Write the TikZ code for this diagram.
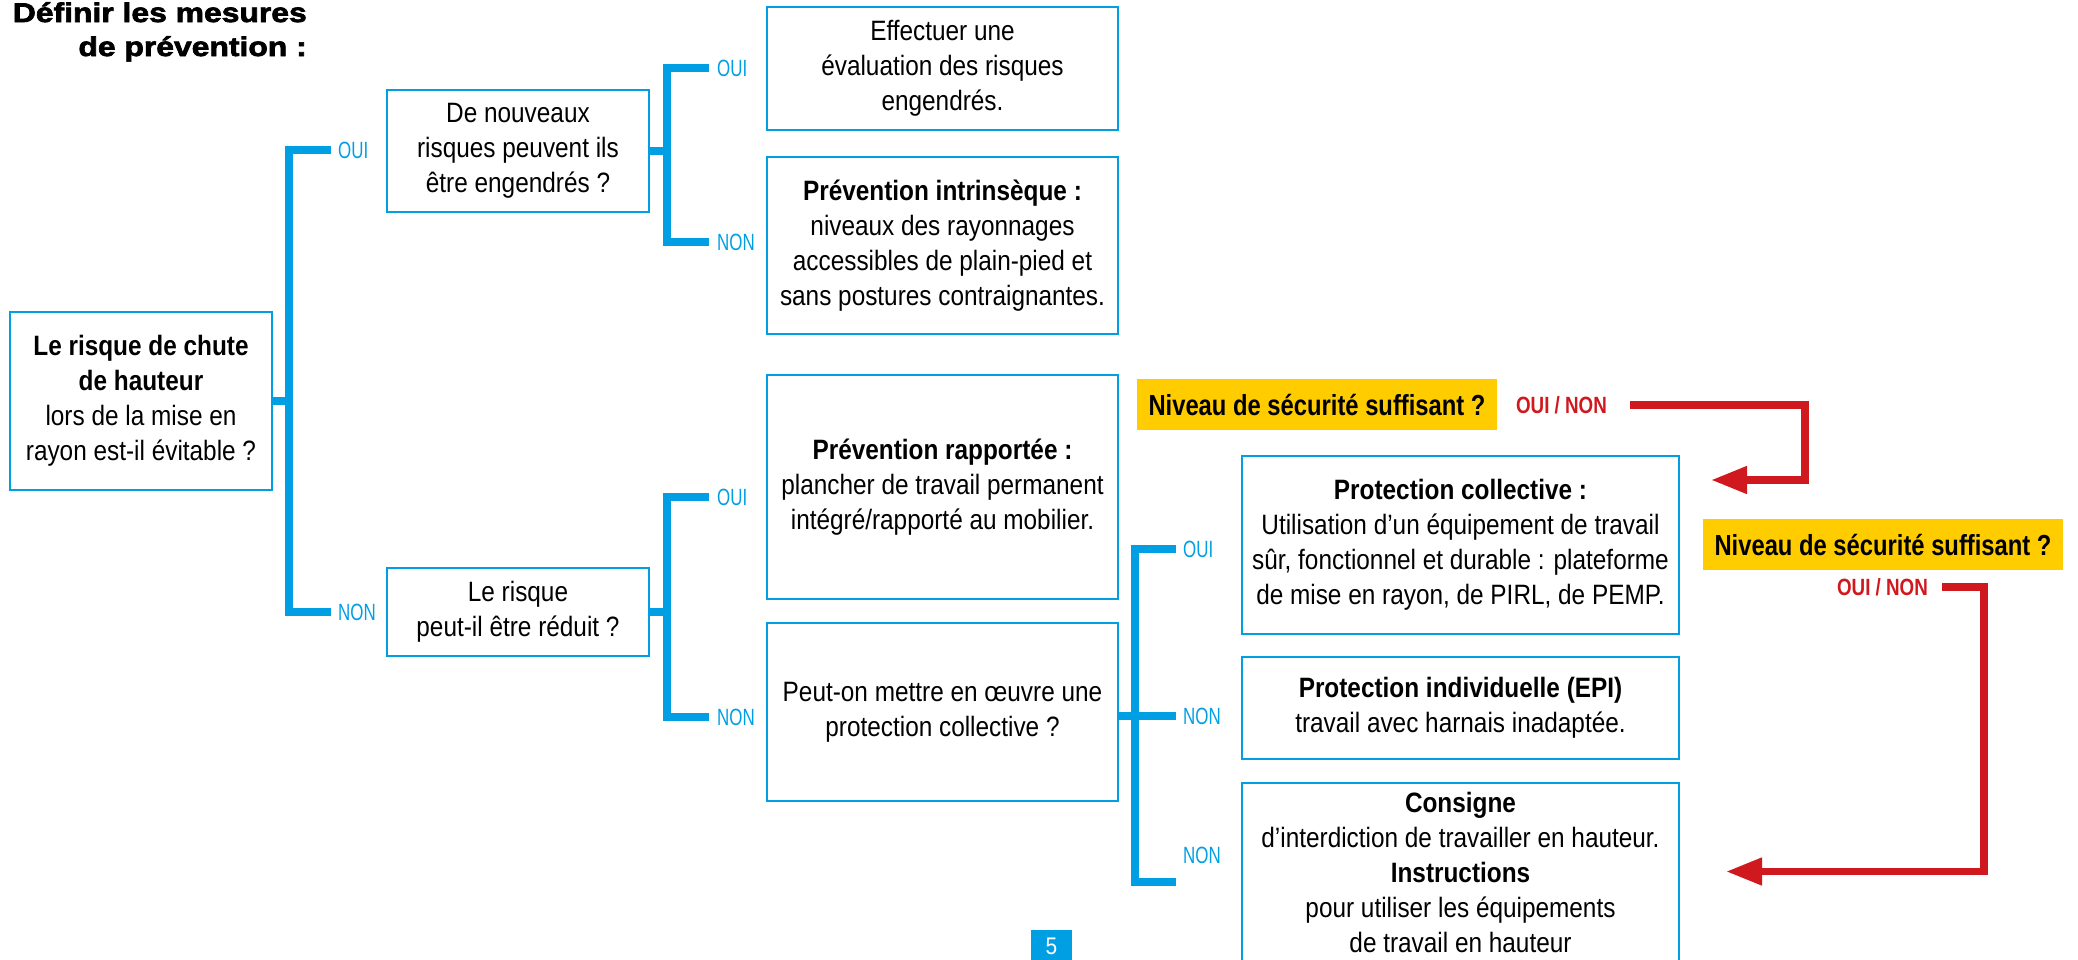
\documentclass[tikz,border=0pt]{standalone}
\usepackage{fontspec}
\setmainfont[FakeStretch=0.87]{Liberation Sans}
\newfontfamily\lblfont[FakeStretch=0.72]{Liberation Sans}
\newfontfamily\redfont[FakeStretch=0.8]{Liberation Sans}
\newfontfamily\yelfont[FakeStretch=0.82]{Liberation Sans}
\newfontfamily\ttlfont[FakeStretch=1.18,BoldFeatures={FakeBold=2.5}]{Liberation Sans}
\usetikzlibrary{arrows.meta}
\definecolor{cblue}{HTML}{009FE3}
\definecolor{cred}{HTML}{D0191E}
\definecolor{cyel}{HTML}{FFCC00}
\begin{document}
\begin{tikzpicture}[x=1pt,y=-1pt,
 box/.style={draw=cblue, line width=1.5pt, align=center, inner sep=0pt, font=\fontsize{28}{35}\selectfont},
 br/.style={draw=cblue, line width=8pt, line join=miter},
 lbl/.style={text=cblue, anchor=west, inner sep=0pt, font=\lblfont\fontsize{23.5}{28}\selectfont},
 rlbl/.style={text=cred, inner sep=0pt, font=\redfont\bfseries\fontsize{23.5}{28}\selectfont},
 ybox/.style={fill=cyel, inner sep=0pt, font=\yelfont\bfseries\fontsize{29}{32}\selectfont},
 rarr/.style={draw=cred, line width=7.5pt, line join=miter, -{Triangle[length=36pt,width=26pt]}},
 ttl/.style={anchor=base east, inner sep=0pt, font=\ttlfont\bfseries\fontsize{27}{34}\selectfont},
]
\useasboundingbox (0,0) rectangle (2078,959);

% title
\node[ttl] (ttlA) at (307,22) {Définir les mesures};
\node[ttl] (ttlB) at (307,56) {de prévention :};

% boxes
\node[box, minimum width=262, minimum height=178] (b1) at (141,401)
 {\textbf{Le risque de chute}\\\textbf{de hauteur}\\lors de la mise en\\rayon est-il évitable ?};
\node[box, minimum width=262, minimum height=122] (b2) at (518,151)
 {De nouveaux\\risques peuvent ils\\être engendrés ?};
\node[box, minimum width=262, minimum height=88] (b7) at (518,612)
 {Le risque\\peut-il être réduit ?};
\node[box, minimum width=351, minimum height=123] (b3) at (942.5,68.5)
 {Effectuer une\\évaluation des risques\\engendrés.};
\node[box, minimum width=351, minimum height=177] (b4) at (942.5,245.5)
 {\textbf{Prévention intrinsèque :}\\niveaux des rayonnages\\accessibles de plain-pied et\\sans postures contraignantes.};
\node[box, minimum width=351, minimum height=224] (b5) at (942.5,487)
 {\textbf{Prévention rapportée :}\\plancher de travail permanent\\intégré/rapporté au mobilier.};
\node[box, minimum width=351, minimum height=178] (b6) at (942.5,712)
 {Peut-on mettre en œuvre une\\protection collective ?};
\node[box, minimum width=437, minimum height=178] (b8) at (1460.5,545)
 {\textbf{Protection collective :}\\Utilisation d’un équipement de travail\\sûr, fonctionnel et durable : plateforme\\de mise en rayon, de PIRL, de PEMP.};
\node[box, minimum width=437, minimum height=102] (b9) at (1460.5,708)
 {\textbf{Protection individuelle (EPI)}\\travail avec harnais inadaptée.};
\node[box, minimum width=437, minimum height=178] (b10) at (1460.5,872)
 {\textbf{Consigne}\\d’interdiction de travailler en hauteur.\\\textbf{Instructions}\\pour utiliser les équipements\\de travail en hauteur};

% labels
\node[lbl] (oui1) at (338,150) {OUI};
\node[lbl] (non1) at (338,612) {NON};
\node[lbl] (oui2) at (717,68) {OUI};
\node[lbl] (non2) at (717,242) {NON};
\node[lbl] (oui3) at (717,497) {OUI};
\node[lbl] (non3) at (717,717) {NON};
\node[lbl] (oui4) at (1183,549) {OUI};
\node[lbl] (non4a) at (1183,716) {NON};
\node[lbl] (non4b) at (1183,855) {NON};

% brackets
\coordinate (j1) at (289,401);
\draw[br] (b1.east) -- (j1);
\draw[br] ([xshift=-7pt]oui1.west) -| (j1) |- ([xshift=-7pt]non1.west);
\coordinate (j2) at (667,151);
\draw[br] (b2.east) -- (j2);
\draw[br] ([xshift=-8pt]oui2.west) -| (j2) |- ([xshift=-8pt]non2.west);
\coordinate (j3) at (667,612);
\draw[br] (b7.east) -- (j3);
\draw[br] ([xshift=-8pt]oui3.west) -| (j3) |- ([xshift=-8pt]non3.west);
\coordinate (j4) at (1135,716);
\coordinate (e4) at (1176,882);
\draw[br] (b6.east |- j4) -- ([xshift=-7pt]non4a.west);
\draw[br] ([xshift=-7pt]oui4.west) -| (j4) |- (e4);

% yellow questions
\node[ybox, minimum width=360, minimum height=51] (y1) at (1317,404.5) {Niveau de sécurité suffisant ?};
\node[ybox, minimum width=360, minimum height=51] (y2) at (1883,544.5) {Niveau de sécurité suffisant ?};

% red answers and arrows
\node[rlbl] (r1) at (1561.5,405) {OUI / NON};
\node[rlbl] (r2) at (1882.5,587) {OUI / NON};
\coordinate (c1) at (1805,480);
\coordinate (t1) at (1711,480);
\draw[rarr] ([xshift=23pt]r1.east) -| (c1) -- (t1);
\coordinate (c2) at (1984,871.5);
\coordinate (t2) at (1726,871.5);
\draw[rarr] ([xshift=14pt]r2.east) -| (c2) -- (t2);

% page number
\node[fill=cblue, minimum width=41, minimum height=33, inner sep=0pt, text=white, font=\fontsize{24}{28}\selectfont] (pg) at (1051.5,946) {5};
\end{tikzpicture}
\end{document}
